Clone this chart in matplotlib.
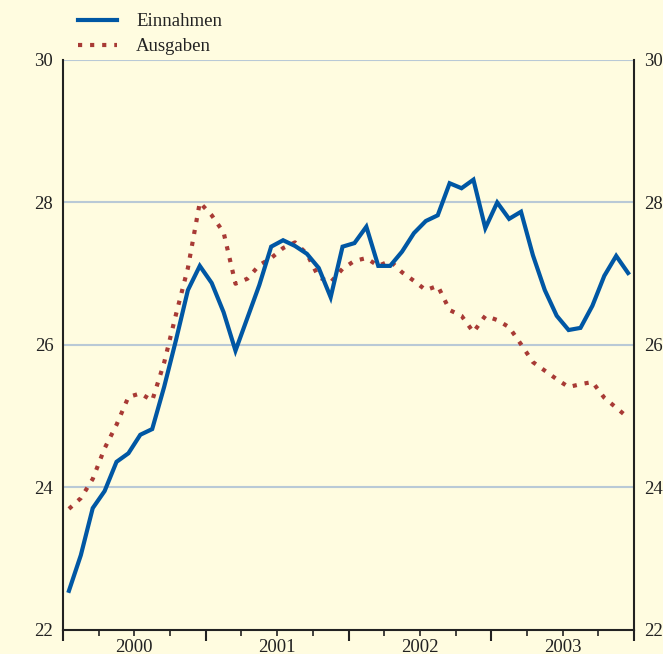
import matplotlib
matplotlib.use("Agg")
import matplotlib.pyplot as plt
import matplotlib.transforms as mtransforms
import numpy as np

years = [2000, 2001, 2002, 2003]
einnahmen = [22.55, 23.05, 23.71, 23.95, 24.36, 24.48, 24.74, 24.82, 25.41, 26.07, 26.77, 27.11,
             26.87, 26.46, 25.92, 26.38, 26.84, 27.38, 27.47, 27.39, 27.28, 27.08, 26.67, 27.38,
             27.43, 27.66, 27.11, 27.11, 27.31, 27.57, 27.74, 27.82, 28.27, 28.20, 28.32, 27.64,
             28.00, 27.77, 27.87, 27.26, 26.77, 26.41, 26.21, 26.24, 26.55, 26.97, 27.25, 27.01]
ausgaben = [23.70, 23.85, 24.12, 24.55, 24.88, 25.27, 25.32, 25.22, 25.75, 26.43, 27.08, 28.00,
            27.82, 27.58, 26.86, 26.93, 27.12, 27.22, 27.36, 27.44, 27.28, 26.95, 26.88, 27.07,
            27.18, 27.22, 27.11, 27.18, 27.02, 26.90, 26.77, 26.83, 26.49, 26.41, 26.18, 26.41,
            26.35, 26.25, 26.01, 25.76, 25.64, 25.52, 25.41, 25.45, 25.48, 25.26, 25.12, 24.98]
yticks = [22, 24, 26, 28, 30]

bg = '#FFFCE0'
grid_c = '#B9C9D6'
blue = '#0057A4'
red = '#A83A35'
font = 'Liberation Serif'
fs = 13.5

x = years[0] + (np.arange(len(einnahmen)) + 0.5) / 12.0

fig = plt.figure(figsize=(6.63, 6.54), dpi=100, facecolor=bg)
ax = fig.add_axes([0.0950, 0.0367, 0.9563 - 0.0950, 0.9083 - 0.0367])
ax.set_facecolor(bg)

for v in yticks[1:]:
    ax.axhline(v, color=grid_c, lw=1.5, zorder=1)

l1, = ax.plot(x, einnahmen, color=blue, lw=3, solid_joinstyle='miter', zorder=3, label='Einnahmen')
l2, = ax.plot(x, ausgaben, color=red, lw=3, linestyle=(0, (1, 1.9)), zorder=2, label='Ausgaben')

ax.set_xlim(years[0], years[-1] + 1)
ax.set_ylim(yticks[0], yticks[-1])

for s in ['left', 'right', 'bottom']:
    ax.spines[s].set_color('#222222')
    ax.spines[s].set_linewidth(1.5)
ax.spines['top'].set_visible(False)

ax.set_yticks(yticks)
ax.set_yticklabels([str(v) for v in yticks], fontfamily=font, fontsize=fs, color='#222222')
ax.tick_params(axis='y', length=0, pad=7, labelright=True, labelleft=True)

major = list(range(years[0], years[-1] + 2))
ax.set_xticks(major)
ax.set_xticklabels([''] * len(major))
ax.set_xticks([y + q / 4 for y in years for q in (1, 2, 3)], minor=True)
ax.tick_params(axis='x', which='major', length=8, width=1.5, color='#222222')
ax.tick_params(axis='x', which='minor', length=4, width=1.2, color='#222222')

trans = mtransforms.blended_transform_factory(ax.transData, ax.transAxes)
for yr in years:
    ax.text(yr + 0.5, -0.015, str(yr), transform=trans, ha='center', va='top',
            fontfamily=font, fontsize=fs, color='#222222')

leg = fig.legend(handles=[l1, l2], loc='upper left', bbox_to_anchor=(78 / 663, 1 - 13 / 654),
                 frameon=False, prop={'family': font, 'size': fs}, handlelength=2.1,
                 handletextpad=1.0, labelspacing=0.42, borderpad=0, borderaxespad=0)
for t in leg.get_texts():
    t.set_color('#222222')

fig.savefig('out.png', dpi=100, facecolor=bg)
